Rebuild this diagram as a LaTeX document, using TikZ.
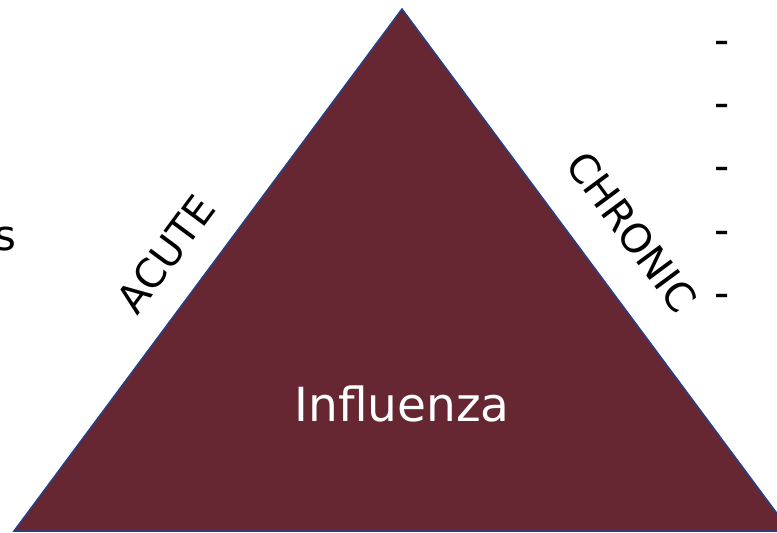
\documentclass[tikz,border=0pt]{standalone}
\usepackage{fontspec}
\setmainfont{DejaVu Sans}
\definecolor{maroon}{HTML}{662733}
\definecolor{edgeblue}{HTML}{23408A}
\tikzset{
  sidelabel/.style={font=\fontsize{40}{44}\selectfont, inner sep=0pt},
  bullet/.style={font=\fontsize{42}{46}\selectfont, inner sep=0pt}
}

\begin{document}
\begin{tikzpicture}[x=1pt,y=-1pt]
  \useasboundingbox (0,0) rectangle (777,533);
  \begin{scope}
    \clip (0,0) rectangle (777,533);
    \coordinate (top) at (402,9);
    \coordinate (left) at (14,531);
    \coordinate (right) at (790,531);
    \draw[edgeblue, line width=1.5pt, fill=maroon] (top)--(left)--(right)--cycle;
  \end{scope}
  \node[text=white, font=\fontsize{47}{52}\selectfont] (flu) at (402,404) {Influenza};
  \node[sidelabel, rotate=53.5] (acute) at (166,254) {ACUTE};
  \node[sidelabel, rotate=-53.5] (chronic) at (632,232) {CHRONIC};
  \node[bullet, anchor=east] (s) at (17,239) {s};
  % dashes down the right margin
  \foreach \y [count=\i] in {42,105,168,232,295}
    \node[bullet] (dash\i) at (722,\y+6) {-};
\end{tikzpicture}
\end{document}
